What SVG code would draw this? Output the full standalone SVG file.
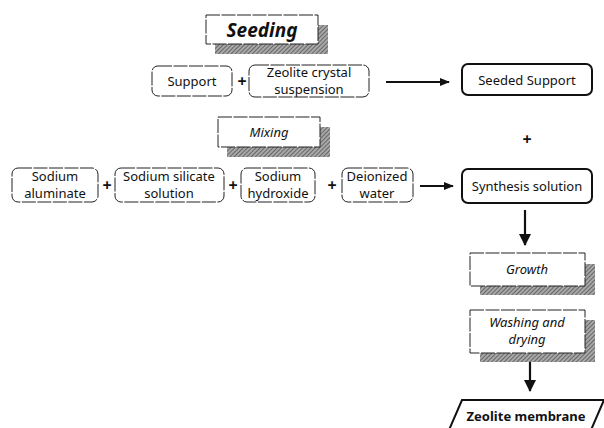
<svg xmlns="http://www.w3.org/2000/svg" width="604" height="428" viewBox="0 0 604 428">
<style>
  text{font-family:"Noto Sans","DejaVu Sans",sans-serif;font-size:13px;fill:#111;text-anchor:middle}
  .it{font-style:italic}
  .b{font-weight:bold}
  .in{fill:#fff;stroke:#222;stroke-width:1;stroke-dasharray:14 1.5}
  .out{fill:#fff;stroke:#111;stroke-width:2}
  .step{fill:#fff;stroke:#222;stroke-width:1;stroke-dasharray:14 1.5}
  .sh{fill:url(#hatch)}
  .con{stroke:#111;stroke-width:2.2;fill:none}
  .plus{font-size:16px;font-weight:bold}
</style>
<defs>
  <pattern id="hatch" width="3" height="3" patternUnits="userSpaceOnUse" patternTransform="rotate(45)">
    <rect width="3" height="3" fill="#a8a8a8"/>
    <line x1="0" y1="0" x2="0" y2="3" stroke="#444" stroke-width="1.3"/>
  </pattern>
  <marker id="ah" markerWidth="10" markerHeight="8" refX="9" refY="4" orient="auto" markerUnits="userSpaceOnUse">
    <path d="M0,0 L10,4 L0,8 Z" fill="#111"/>
  </marker>
  <marker id="ahd" markerWidth="12" markerHeight="12" refX="11" refY="6" orient="auto" markerUnits="userSpaceOnUse">
    <path d="M0,0 L12,6 L0,12 Z" fill="#111"/>
  </marker>
</defs>

<g id="seeding">
  <rect class="sh" x="215" y="25" width="113" height="29"/>
  <rect class="step" x="206" y="15" width="112" height="29"/>
  <text x="262" y="37" class="it b" style="font-size:19px">Seeding</text>
</g>
<g id="support">
  <rect class="in" x="152" y="66" width="80" height="30" rx="6"/>
  <text x="192" y="86">Support</text>
</g>
<text x="242" y="87" class="plus">+</text>
<g id="zeolite-suspension">
  <rect class="in" x="249" y="65" width="120" height="32" rx="6"/>
  <text x="309" y="77">Zeolite crystal</text>
  <text x="309" y="93.5">suspension</text>
</g>
<g id="seeded-support">
  <rect class="out" x="462" y="64" width="130" height="31" rx="6"/>
  <text x="527" y="85">Seeded Support</text>
</g>
<text x="527" y="145" class="plus">+</text>

<g id="mixing">
  <rect class="sh" x="227" y="127" width="103" height="30"/>
  <rect class="step" x="218" y="117" width="102" height="30"/>
  <text x="269" y="137" class="it">Mixing</text>
</g>
<g id="sodium-aluminate">
  <rect class="in" x="12" y="168" width="86" height="34" rx="6"/>
  <text x="55" y="181">Sodium</text>
  <text x="55" y="197.5">aluminate</text>
</g>
<text x="107" y="191" class="plus">+</text>
<g id="sodium-silicate">
  <rect class="in" x="115" y="168" width="109" height="34" rx="6"/>
  <text x="169" y="181">Sodium silicate</text>
  <text x="169" y="197.5">solution</text>
</g>
<text x="233" y="191" class="plus">+</text>
<g id="sodium-hydroxide">
  <rect class="in" x="241" y="168" width="74" height="34" rx="6"/>
  <text x="278" y="181">Sodium</text>
  <text x="278" y="197.5">hydroxide</text>
</g>
<text x="332" y="191" class="plus">+</text>
<g id="deionized-water">
  <rect class="in" x="342" y="168" width="71" height="34" rx="6"/>
  <text x="377" y="181">Deionized</text>
  <text x="377" y="197.5">water</text>
</g>
<g id="synthesis-solution">
  <rect class="out" x="462" y="169" width="130" height="34" rx="6"/>
  <text x="527" y="191">Synthesis solution</text>
</g>

<g id="growth">
  <rect class="sh" x="480" y="264" width="115" height="31"/>
  <rect class="step" x="470" y="253" width="115" height="33"/>
  <text x="527" y="274" class="it">Growth</text>
</g>
<g id="washing-drying">
  <rect class="sh" x="480" y="320" width="115" height="42"/>
  <rect class="step" x="470" y="310" width="115" height="43"/>
  <text x="527" y="327" class="it">Washing and</text>
  <text x="527" y="344" class="it">drying</text>
</g>
<g id="zeolite-membrane">
  <path d="M462,400 L604,400 L591,430 L449,430 Z" fill="#fff" stroke="#111" stroke-width="2"/>
  <text x="526" y="421" class="b">Zeolite membrane</text>
</g>

<g id="connectors">
  <line class="con" x1="386" y1="82" x2="449" y2="82" marker-end="url(#ah)"/>
  <line class="con" x1="420" y1="186" x2="453" y2="186" marker-end="url(#ah)"/>
  <line class="con" x1="525" y1="210" x2="525" y2="245" marker-end="url(#ahd)"/>
  <line class="con" x1="530" y1="362" x2="530" y2="391" marker-end="url(#ahd)"/>
</g>
</svg>
